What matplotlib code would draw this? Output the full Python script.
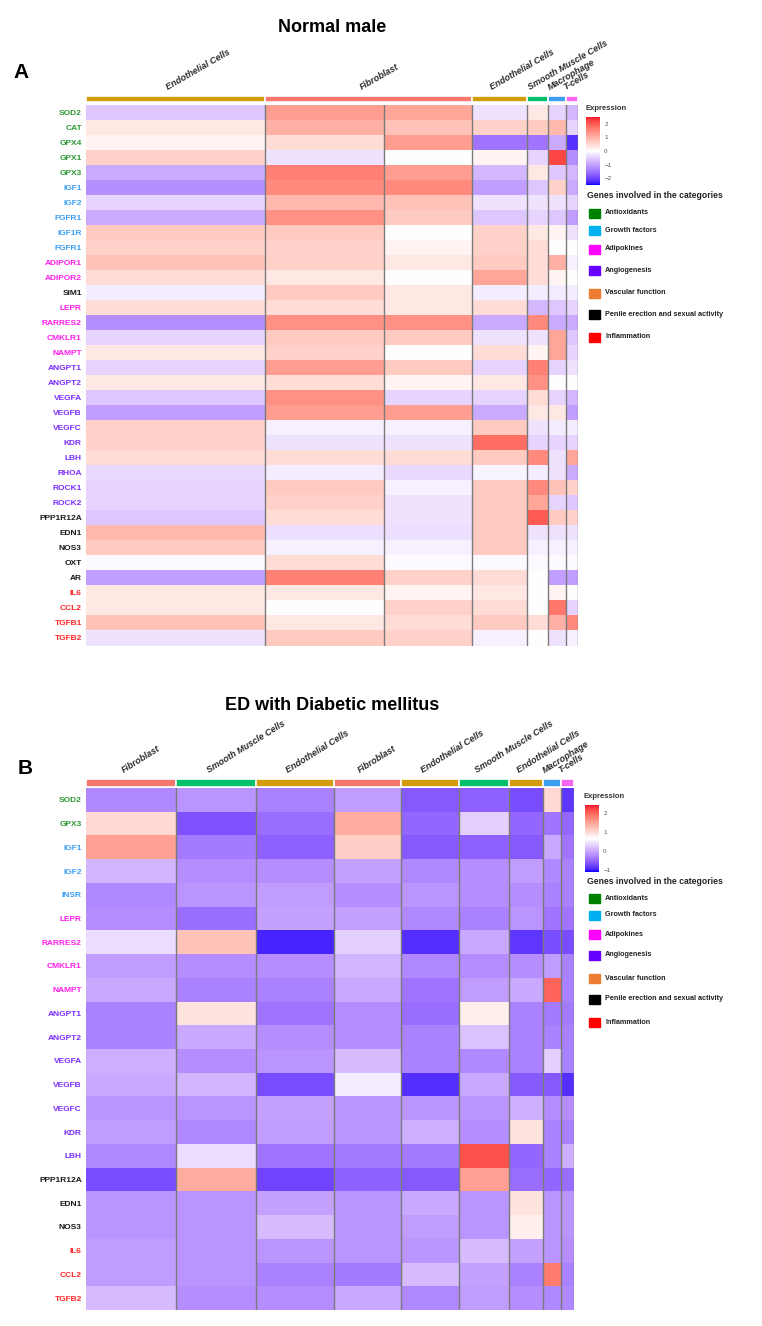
import numpy as np
import matplotlib
matplotlib.use("Agg")
import matplotlib.pyplot as plt
import matplotlib.colors as mcolors
import matplotlib.transforms as mtransforms
from matplotlib.cm import ScalarMappable

plt.rcParams['font.family'] = ['Liberation Sans', 'DejaVu Sans']

W, H = 762, 1326

# ---- panel A : normal male ----
clusters_a = ['Endothelial Cells', 'Fibroblast', 'Fibroblast', 'Endothelial Cells',
              'Smooth Muscle Cells', 'Macrophage', 'T-cells']
ncells_a = [179, 119, 88, 55, 21, 18, 12]
genes_a = ['SOD2', 'CAT', 'GPX4', 'GPX1', 'GPX3', 'IGF1', 'IGF2', 'FGFR1', 'IGF1R', 'FGFR1',
           'ADIPOR1', 'ADIPOR2', 'SIM1', 'LEPR', 'RARRES2', 'CMKLR1', 'NAMPT', 'ANGPT1',
           'ANGPT2', 'VEGFA', 'VEGFB', 'VEGFC', 'KDR', 'LBH', 'RHOA', 'ROCK1', 'ROCK2',
           'PPP1R12A', 'EDN1', 'NOS3', 'OXT', 'AR', 'IL6', 'CCL2', 'TGFB1', 'TGFB2']
cat_a = ['anti'] * 5 + ['growth'] * 5 + ['adipo'] * 2 + ['penile'] + ['adipo'] * 4 + \
        ['angio'] * 10 + ['penile'] * 5 + ['inflam'] * 4
expr_a = [
    [-0.6, 1.25, 1.15, -0.3, 0.3, -0.45, -0.75],     # SOD2
    [0.3, 1.0, 0.8, 0.6, 0.7, 0.9, -0.45],           # CAT
    [0.15, 0.45, 1.25, -1.5, -1.5, -0.9, -2.2],      # GPX4
    [0.6, -0.3, 0.0, 0.15, -0.45, 2.2, -1.2],        # GPX1
    [-0.9, 1.6, 1.25, -0.75, 0.3, -0.6, -0.75],      # GPX3
    [-1.2, 1.5, 1.5, -1.05, -0.6, 0.6, -0.9],        # IGF1
    [-0.45, 0.9, 0.8, -0.3, -0.3, -0.3, -0.45],      # IGF2
    [-0.9, 1.4, 0.7, -0.6, -0.45, -0.6, -1.05],      # FGFR1
    [0.7, 0.7, 0.0, 0.6, 0.3, 0.15, -0.3],           # IGF1R
    [0.6, 0.6, 0.15, 0.6, 0.45, 0.0, 0.0],           # FGFR1
    [0.8, 0.6, 0.3, 0.7, 0.45, 1.0, -0.15],          # ADIPOR1
    [0.45, 0.3, 0.0, 1.15, 0.45, 0.15, 0.0],         # ADIPOR2
    [-0.2, 0.7, 0.3, -0.2, -0.2, -0.2, -0.2],        # SIM1
    [0.45, 0.45, 0.3, 0.45, -0.75, -0.6, -0.45],     # LEPR
    [-1.2, 1.4, 1.4, -0.9, 1.5, -0.9, -0.9],         # RARRES2
    [-0.45, 0.7, 0.7, -0.3, -0.3, 1.15, -0.6],       # CMKLR1
    [0.3, 0.6, 0.0, 0.45, 0.15, 1.15, -0.45],        # NAMPT
    [-0.45, 1.25, 0.7, -0.45, 1.6, -0.45, -0.3],     # ANGPT1
    [0.3, 0.45, 0.15, 0.3, 1.4, 0.0, 0.0],           # ANGPT2
    [-0.6, 1.4, -0.45, -0.45, 0.45, -0.45, -0.75],   # VEGFA
    [-1.05, 1.25, 1.25, -0.9, 0.3, 0.3, -1.05],      # VEGFB
    [0.6, -0.15, -0.15, 0.7, -0.3, -0.2, -0.2],      # VEGFC
    [0.6, -0.3, -0.3, 1.8, -0.45, -0.45, -0.45],     # KDR
    [0.45, 0.45, 0.45, 0.7, 1.5, -0.3, 1.15],        # LBH
    [-0.4, -0.2, -0.4, -0.1, -0.2, -0.3, -0.9],      # RHOA
    [-0.45, 0.7, -0.15, 0.7, 1.5, 0.8, 0.6],         # ROCK1
    [-0.45, 0.6, -0.3, 0.7, 1.15, -0.45, -0.6],      # ROCK2
    [-0.6, 0.45, -0.3, 0.7, 2.0, 0.7, 0.6],          # PPP1R12A
    [0.9, -0.35, -0.35, 0.7, -0.3, -0.3, -0.3],      # EDN1
    [0.7, -0.15, -0.15, 0.7, -0.15, -0.15, -0.15],   # NOS3
    [-0.05, 0.45, -0.05, -0.05, -0.05, -0.05, -0.05],  # OXT
    [-1.05, 1.6, 0.6, 0.45, 0.0, -1.05, -1.05],      # AR
    [0.3, 0.3, 0.15, 0.3, 0.0, 0.15, 0.0],           # IL6
    [0.3, 0.0, 0.6, 0.45, 0.0, 1.7, -0.45],          # CCL2
    [0.8, 0.3, 0.45, 0.7, 0.45, 1.0, 1.5],           # TGFB1
    [-0.3, 0.7, 0.6, -0.15, 0.0, -0.3, -0.15],       # TGFB2
]
range_a = (-2.5, 0.0, 2.5)
ticks_a = [-2, -1, 0, 1, 2]

# ---- panel B : ED with diabetes ----
clusters_b = ['Fibroblast', 'Smooth Muscle Cells', 'Endothelial Cells', 'Fibroblast',
              'Endothelial Cells', 'Smooth Muscle Cells', 'Endothelial Cells',
              'Macrophage', 'T-cells']
ncells_b = [90, 80, 77, 67, 58, 50, 34, 18, 13]
genes_b = ['SOD2', 'GPX3', 'IGF1', 'IGF2', 'INSR', 'LEPR', 'RARRES2', 'CMKLR1', 'NAMPT',
           'ANGPT1', 'ANGPT2', 'VEGFA', 'VEGFB', 'VEGFC', 'KDR', 'LBH', 'PPP1R12A',
           'EDN1', 'NOS3', 'IL6', 'CCL2', 'TGFB2']
cat_b = ['anti'] * 2 + ['growth'] * 3 + ['adipo'] * 4 + ['angio'] * 7 + ['penile'] * 3 + \
        ['inflam'] * 3
expr_b = [
    [-0.25, -0.15, -0.3, -0.1, -0.6, -0.55, -0.7, 1.0, -0.85],    # SOD2
    [1.0, -0.65, -0.45, 1.4, -0.5, 0.3, -0.5, -0.4, -0.5],        # GPX3
    [1.5, -0.35, -0.55, 1.1, -0.6, -0.55, -0.6, 0.0, -0.4],       # IGF1
    [0.1, -0.2, -0.2, -0.05, -0.25, -0.2, -0.1, -0.25, -0.3],     # IGF2
    [-0.25, -0.15, -0.1, -0.2, -0.15, -0.2, -0.2, -0.3, -0.3],    # INSR
    [-0.2, -0.45, -0.05, -0.05, -0.25, -0.3, -0.15, -0.4, -0.4],  # LEPR
    [0.4, 1.2, -0.95, 0.3, -0.9, 0.0, -0.85, -0.7, -0.7],         # RARRES2
    [-0.1, -0.2, -0.2, 0.1, -0.25, -0.2, -0.2, -0.1, -0.3],       # CMKLR1
    [0.0, -0.3, -0.3, 0.0, -0.4, -0.1, 0.0, 2.0, -0.3],           # NAMPT
    [-0.3, 0.9, -0.4, -0.2, -0.45, 0.8, -0.3, -0.35, -0.35],      # ANGPT1
    [-0.3, 0.0, -0.2, -0.2, -0.3, 0.2, -0.3, -0.3, -0.3],         # ANGPT2
    [0.05, -0.2, -0.15, 0.15, -0.3, -0.25, -0.3, 0.3, -0.3],      # VEGFA
    [0.0, 0.1, -0.7, 0.5, -0.9, 0.0, -0.6, -0.6, -0.9],           # VEGFB
    [-0.15, -0.15, -0.05, -0.15, -0.15, -0.15, 0.05, -0.2, -0.2], # VEGFC
    [-0.1, -0.25, -0.1, -0.15, 0.05, -0.2, 0.9, -0.3, -0.3],      # KDR
    [-0.25, 0.4, -0.4, -0.35, -0.35, 2.1, -0.5, -0.3, 0.05],      # LBH
    [-0.7, 1.4, -0.75, -0.55, -0.6, 1.5, -0.45, -0.5, -0.45],     # PPP1R12A
    [-0.15, -0.15, -0.05, -0.15, 0.0, -0.15, 0.9, -0.15, -0.15],  # EDN1
    [-0.15, -0.15, 0.15, -0.15, -0.1, -0.15, 0.8, -0.15, -0.15],  # NOS3
    [-0.1, -0.15, -0.15, -0.15, -0.15, 0.15, -0.05, -0.15, -0.2], # IL6
    [-0.1, -0.15, -0.3, -0.35, 0.15, -0.05, -0.3, 1.8, -0.3],     # CCL2
    [0.15, -0.2, -0.2, 0.0, -0.25, -0.1, -0.2, -0.25, -0.25],     # TGFB2
]
range_b = (-1.1, 0.65, 2.4)
ticks_b = [-1, 0, 1, 2]

cell_colors = {'Endothelial Cells': '#D39C0C', 'Fibroblast': '#F8766D',
               'Smooth Muscle Cells': '#00C06B', 'Macrophage': '#3C9EF0',
               'T-cells': '#F565F0'}
cat_names = ['Antioxidants', 'Growth factors', 'Adipokines', 'Angiogenesis',
             'Vascular function', 'Penile erection and sexual activity', 'Inflammation']
cat_box = ['#008000', '#00B0F0', '#FF00FF', '#6600FF', '#ED7D31', '#000000', '#FF0000']
cat_text = {'anti': '#2E9633', 'growth': '#3D9EF2', 'adipo': '#FF1EEB', 'angio': '#7A2EFF',
            'vasc': '#ED7D31', 'penile': '#1A1A1A', 'inflam': '#FF2A2A'}

M_RGB = np.array([[0.4124, 0.3576, 0.1805], [0.2126, 0.7152, 0.0722], [0.0193, 0.1192, 0.9505]])
D65 = np.array([0.95047, 1.0, 1.08883])


def to_lab(c):
    rgb = np.array(mcolors.to_rgb(c))
    lin = np.where(rgb <= 0.04045, rgb / 12.92, ((rgb + 0.055) / 1.055) ** 2.4)
    xyz = M_RGB @ lin / D65
    f = np.where(xyz > 0.008856, np.cbrt(xyz), 7.787 * xyz + 16 / 116)
    return np.array([116 * f[1] - 16, 500 * (f[0] - f[1]), 200 * (f[1] - f[2])])


def from_lab(lab):
    fy = (lab[0] + 16) / 116
    f = np.array([fy + lab[1] / 500, fy, fy - lab[2] / 200])
    xyz = np.where(f ** 3 > 0.008856, f ** 3, (f - 16 / 116) / 7.787) * D65
    lin = np.clip(np.linalg.solve(M_RGB, xyz), 0, 1)
    rgb = np.where(lin <= 0.0031308, 12.92 * lin, 1.055 * lin ** (1 / 2.4) - 0.055)
    return np.clip(rgb, 0, 1)


def lab_cmap(vmin, vmid, vmax):
    # blue - white - red ramp interpolated in LAB space
    blue, white, red = to_lab('#0000FF'), to_lab('#FFFFFF'), to_lab('#F5102E')
    cols = []
    for v in np.linspace(vmin, vmax, 256):
        if v < vmid:
            t = (v - vmin) / (vmid - vmin)
            cols.append(from_lab(blue + t * (white - blue)))
        else:
            t = (v - vmid) / (vmax - vmid)
            cols.append(from_lab(white + t * (red - white)))
    return mcolors.ListedColormap(cols), mcolors.Normalize(vmin, vmax)


def rect(x0, y0, x1, y1):
    return [x0 / W, 1 - y1 / H, (x1 - x0) / W, (y1 - y0) / H]


fig = plt.figure(figsize=(W / 100, H / 100), dpi=100)


def draw_panel(letter, title, title_y, letter_xy, clusters, ncells, genes, cats, expr, rng,
               ticks, hm_box, bar_box, cb_box, leg_y, rot):
    cmap, norm = lab_cmap(*rng)
    edges = np.concatenate([[0], np.cumsum(ncells)])
    total = edges[-1]

    fig.text(332 / W, 1 - title_y / H, title, ha='center', va='center',
             fontsize=13, fontweight='bold')
    fig.text(letter_xy[0] / W, 1 - letter_xy[1] / H, letter, ha='left', va='center',
             fontsize=15, fontweight='bold')

    ax = fig.add_axes(rect(*hm_box))
    ax.pcolormesh(edges, np.arange(len(genes) + 1), np.array(expr), cmap=cmap, norm=norm)
    ax.set_xlim(0, total)
    ax.set_ylim(len(genes), 0)
    for e in edges[1:]:
        ax.axvline(e, color='#7a7a7a', lw=1.0)
    for s in ax.spines.values():
        s.set_visible(False)
    ax.set_xticks([])
    ax.set_yticks(np.arange(len(genes)) + 0.5)
    ax.set_yticklabels(genes, fontsize=6, fontweight='bold')
    ax.tick_params(axis='y', length=0, pad=3)
    for lab, c in zip(ax.get_yticklabels(), cats):
        lab.set_color(cat_text[c])

    # cell type annotation bar (neighbouring clusters of one type share a block)
    groups = []
    for i, name in enumerate(clusters):
        if groups and groups[-1][0] == name:
            groups[-1][2] = edges[i + 1]
        else:
            groups.append([name, edges[i], edges[i + 1]])
    bax = fig.add_axes(rect(*bar_box))
    for name, x0, x1 in groups:
        bax.barh(0, x1 - x0, left=x0, height=1, color=cell_colors[name],
                 edgecolor='white', linewidth=1.2)
    bax.set_xlim(0, total)
    bax.set_ylim(-0.5, 0.5)
    bax.axis('off')
    trans = mtransforms.blended_transform_factory(bax.transData, bax.transAxes)
    trans = mtransforms.offset_copy(trans, fig=fig, x=-6, y=4, units='dots')
    for name, x0, x1 in groups:
        bax.text((x0 + x1) / 2, 1, name, transform=trans, rotation=rot,
                 rotation_mode='anchor', ha='left', va='bottom', fontsize=6.5,
                 fontstyle='italic', fontweight='bold', color='#2b2b2b')

    # expression colour bar
    fig.text((cb_box[0] - 1) / W, 1 - (cb_box[1] - 9) / H, 'Expression', ha='left',
             va='center', fontsize=5.5, fontweight='bold', color='#333333')
    cax = fig.add_axes(rect(*cb_box))
    cb = fig.colorbar(ScalarMappable(norm=norm, cmap=cmap), cax=cax, ticks=ticks)
    cb.outline.set_visible(False)
    cax.tick_params(length=0, labelsize=4.5, colors='#555555', pad=3)

    # category legend
    fig.text(587 / W, 1 - leg_y / H, 'Genes involved in the categories', ha='left',
             va='center', fontsize=6.2, fontweight='bold', color='#222222')
    offsets = [17, 34, 53, 74, 97, 118, 141]
    for name, col, off in zip(cat_names, cat_box, offsets):
        yy = leg_y + off
        fig.patches.append(plt.Rectangle((589 / W, 1 - (yy + 4.5) / H), 11 / W, 9 / H,
                                         transform=fig.transFigure, color=col))
        fig.text(605 / W, 1 - yy / H, name, ha='left', va='center', fontsize=5.2,
                 fontweight='bold', color='#222222')


draw_panel('A', 'Normal male', 28, (13, 73), clusters_a, ncells_a, genes_a, cat_a, expr_a,
           range_a, ticks_a, (86, 105, 578, 645.5), (86, 95.5, 578, 102),
           (586, 117, 600, 185), 196, 30)
draw_panel('B', 'ED with Diabetic mellitus', 705, (18, 768), clusters_b, ncells_b, genes_b,
           cat_b, expr_b, range_b, ticks_b, (86, 788, 574, 1310), (86, 779, 574, 787),
           (585, 805, 599, 872), 881, 32)

fig.savefig('out.png', dpi=100)
